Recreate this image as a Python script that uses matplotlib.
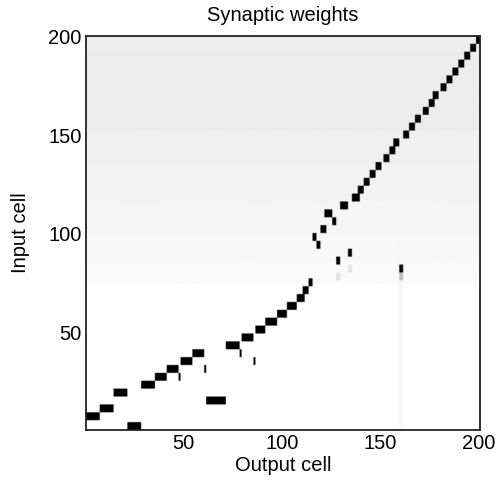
import numpy as np
import matplotlib
matplotlib.use("Agg")
import matplotlib.pyplot as plt

plt.rcParams['font.family'] = ['Liberation Sans', 'DejaVu Sans']

n_out = 200
n_in = 200

# background weight level per band of input cells (start row, end row, weight)
bg_row_start = [75, 86, 100, 117, 136, 153, 193]
bg_row_end = [85, 99, 116, 135, 152, 192, 200]
bg_weight = [0.02, 0.03, 0.04, 0.05, 0.06, 0.075, 0.07]

# strong weight blocks: output-cell range x input-cell range
blk_out_lo = [1, 8, 15, 22, 29, 36, 42, 48, 49, 55, 61, 62, 72, 79, 86, 80, 87, 92, 98, 103, 108, 111, 114,
              116, 118, 120, 122, 126, 130, 136,
              139, 142, 145, 148, 152, 155, 157, 162, 165, 168, 172, 175, 177, 181, 184, 187, 190, 193, 196, 199]
blk_out_hi = [7, 14, 21, 28, 35, 41, 47, 48, 54, 60, 61, 71, 78, 79, 86, 85, 91, 97, 102, 107, 111, 113, 115,
              117, 119, 122, 125, 127, 133, 139,
              141, 144, 147, 150, 154, 157, 159, 164, 167, 170, 174, 177, 179, 183, 186, 189, 192, 195, 198, 200]
blk_in_lo = [6, 10, 18, 1, 22, 26, 30, 26, 34, 38, 30, 14, 42, 38, 34, 46, 50, 54, 58, 62, 66, 70, 74,
             97, 93, 101, 109, 105, 113, 117,
             121, 125, 129, 133, 137, 141, 145, 149, 153, 157, 161, 165, 169, 173, 177, 181, 185, 189, 193, 197]
blk_in_hi = [9, 13, 21, 4, 25, 29, 33, 29, 37, 41, 33, 17, 45, 41, 37, 49, 53, 57, 61, 65, 69, 73, 77,
             100, 96, 104, 112, 108, 116, 120,
             124, 128, 132, 136, 140, 144, 148, 152, 156, 160, 164, 168, 172, 176, 180, 184, 188, 192, 196, 200]

# isolated small weights (output cell range, input cell range, weight)
sm_out_lo = [128, 128, 134, 134, 160, 160, 160]
sm_out_hi = [129, 129, 135, 135, 161, 161, 161]
sm_in_lo = [85, 77, 89, 81, 81, 77, 1]
sm_in_hi = [88, 80, 92, 84, 84, 80, 200]
sm_w = [1.0, 0.12, 1.0, 0.1, 0.95, 0.25, 0.035]

W = np.zeros((n_in, n_out))
for r0, r1, w in zip(bg_row_start, bg_row_end, bg_weight):
    W[r0 - 1:r1, :] = w
for c0, c1, r0, r1, w in zip(sm_out_lo, sm_out_hi, sm_in_lo, sm_in_hi, sm_w):
    W[r0 - 1:r1, c0 - 1:c1] = np.maximum(W[r0 - 1:r1, c0 - 1:c1], w)
for c0, c1, r0, r1 in zip(blk_out_lo, blk_out_hi, blk_in_lo, blk_in_hi):
    W[r0 - 1:r1, c0 - 1:c1] = 1.0

fig = plt.figure(figsize=(4.96, 4.87), dpi=100)
ax = fig.add_axes([86 / 496, 1 - 430 / 487, 394 / 496, 394 / 487])
ax.imshow(W, cmap='gray_r', vmin=0, vmax=1, origin='lower',
          extent=[0.5, n_out + 0.5, 0.5, n_in + 0.5], aspect='auto',
          interpolation='antialiased')
ax.set_xticks([50, 100, 150, 200])
ax.set_yticks([50, 100, 150, 200])
ax.tick_params(length=0, labelsize=14.5, pad=3)
for s in ax.spines.values():
    s.set_linewidth(1.3)
    s.set_color('#222222')
ax.set_title('Synaptic weights', fontsize=14.5, pad=11)
ax.set_xlabel('Output cell', fontsize=14.5, labelpad=2)
ax.set_ylabel('Input cell', fontsize=14.5, labelpad=13)
fig.savefig('out.png', dpi=100)
